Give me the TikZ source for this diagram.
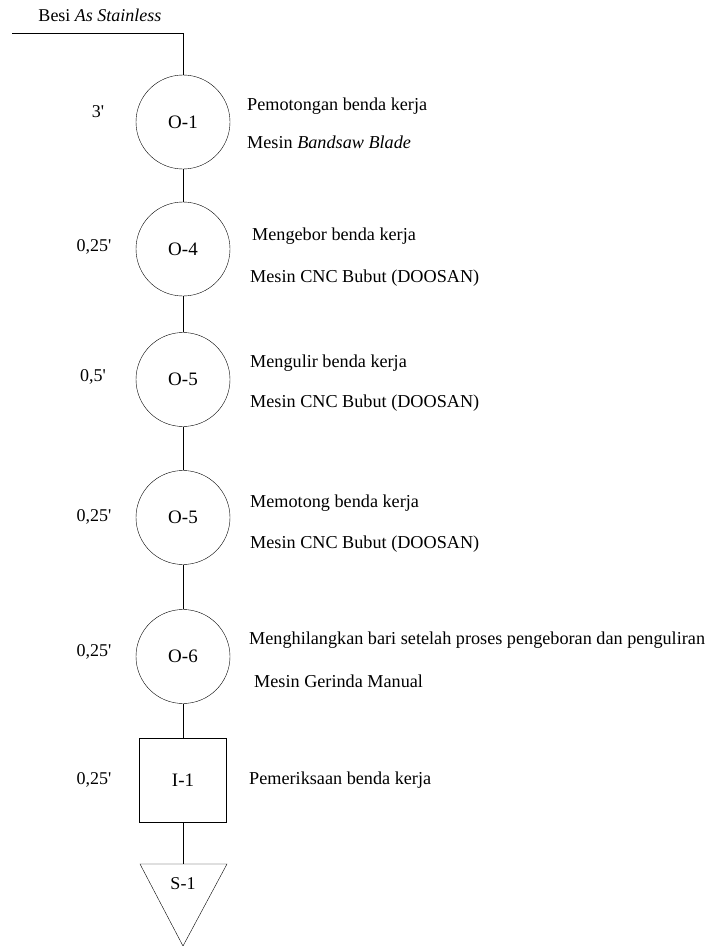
\documentclass[tikz,border=0pt]{standalone}
\usepackage{fontspec}
\setmainfont{Liberation Serif}
\usetikzlibrary{shapes,positioning}

\begin{document}
\begin{tikzpicture}[x=1pt,y=-1pt,
  opr/.style={circle,draw,minimum size=94pt,inner sep=0pt,font=\fontsize{19}{22}\selectfont},
  insp/.style={rectangle,draw,minimum width=87pt,minimum height=84pt,inner sep=0pt,font=\fontsize{19}{22}\selectfont},
  wkt/.style={font=\fontsize{18}{21}\selectfont},
  ket/.style={anchor=west,inner sep=0pt,font=\fontsize{18.2}{21}\selectfont}]
  \useasboundingbox (0,0) rectangle (710,946);

  % bahan masuk
  \node[wkt] (bahan) at (100,15) {Besi \textit{As Stainless}};
  \coordinate (mulai) at (12,33);
  \coordinate (belok) at (183,33);

  % peta proses
  \node[opr] (o1) at (183,122) {O-1};
  \node[opr] (o4) at (183,249) {O-4};
  \node[opr] (o5a) at (183,379.5) {O-5};
  \node[opr] (o5b) at (183,517.5) {O-5};
  \node[opr] (o6) at (183,656.5) {O-6};
  \node[insp] (i1) at (183,780) {I-1};
  \node[wkt] (s1) at (183,884) {S-1};
  \coordinate (s1top) at (183,864);
  \draw (140,864) -- (227,864) -- (183,946) -- cycle;

  \draw (mulai) -- (belok) -- (o1);
  \draw (o1) -- (o4);
  \draw (o4) -- (o5a);
  \draw (o5a) -- (o5b);
  \draw (o5b) -- (o6);
  \draw (o6) -- (i1);
  \draw (i1) -- (s1top);

  % waktu
  \node[wkt] (t1) at (98,112) {3\textquotesingle};
  \node[wkt] (t4) at (94,247) {0,25\textquotesingle};
  \node[wkt] (t5a) at (93,377) {0,5\textquotesingle};
  \node[wkt] (t5b) at (94,517) {0,25\textquotesingle};
  \node[wkt] (t6) at (94,652) {0,25\textquotesingle};
  \node[wkt] (ti1) at (94,780) {0,25\textquotesingle};

  % keterangan
  \node[ket] (k1a) at (247,106) {Pemotongan benda kerja};
  \node[ket] (k1b) at (247,142) {Mesin \textit{Bandsaw Blade}};
  \node[ket] (k4a) at (252,236) {Mengebor benda kerja};
  \node[ket] (k4b) at (250,278) {Mesin CNC Bubut (DOOSAN)};
  \node[ket] (k5aa) at (250,363) {Mengulir benda kerja};
  \node[ket] (k5ab) at (250,403) {Mesin CNC Bubut (DOOSAN)};
  \node[ket] (k5ba) at (250,503) {Memotong benda kerja};
  \node[ket] (k5bb) at (250,544) {Mesin CNC Bubut (DOOSAN)};
  \node[ket] (k6a) at (249,640) {Menghilangkan bari setelah proses pengeboran dan penguliran};
  \node[ket] (k6b) at (254,681) {Mesin Gerinda Manual};
  \node[ket] (ki1) at (249,780) {Pemeriksaan benda kerja};
\end{tikzpicture}
\end{document}
